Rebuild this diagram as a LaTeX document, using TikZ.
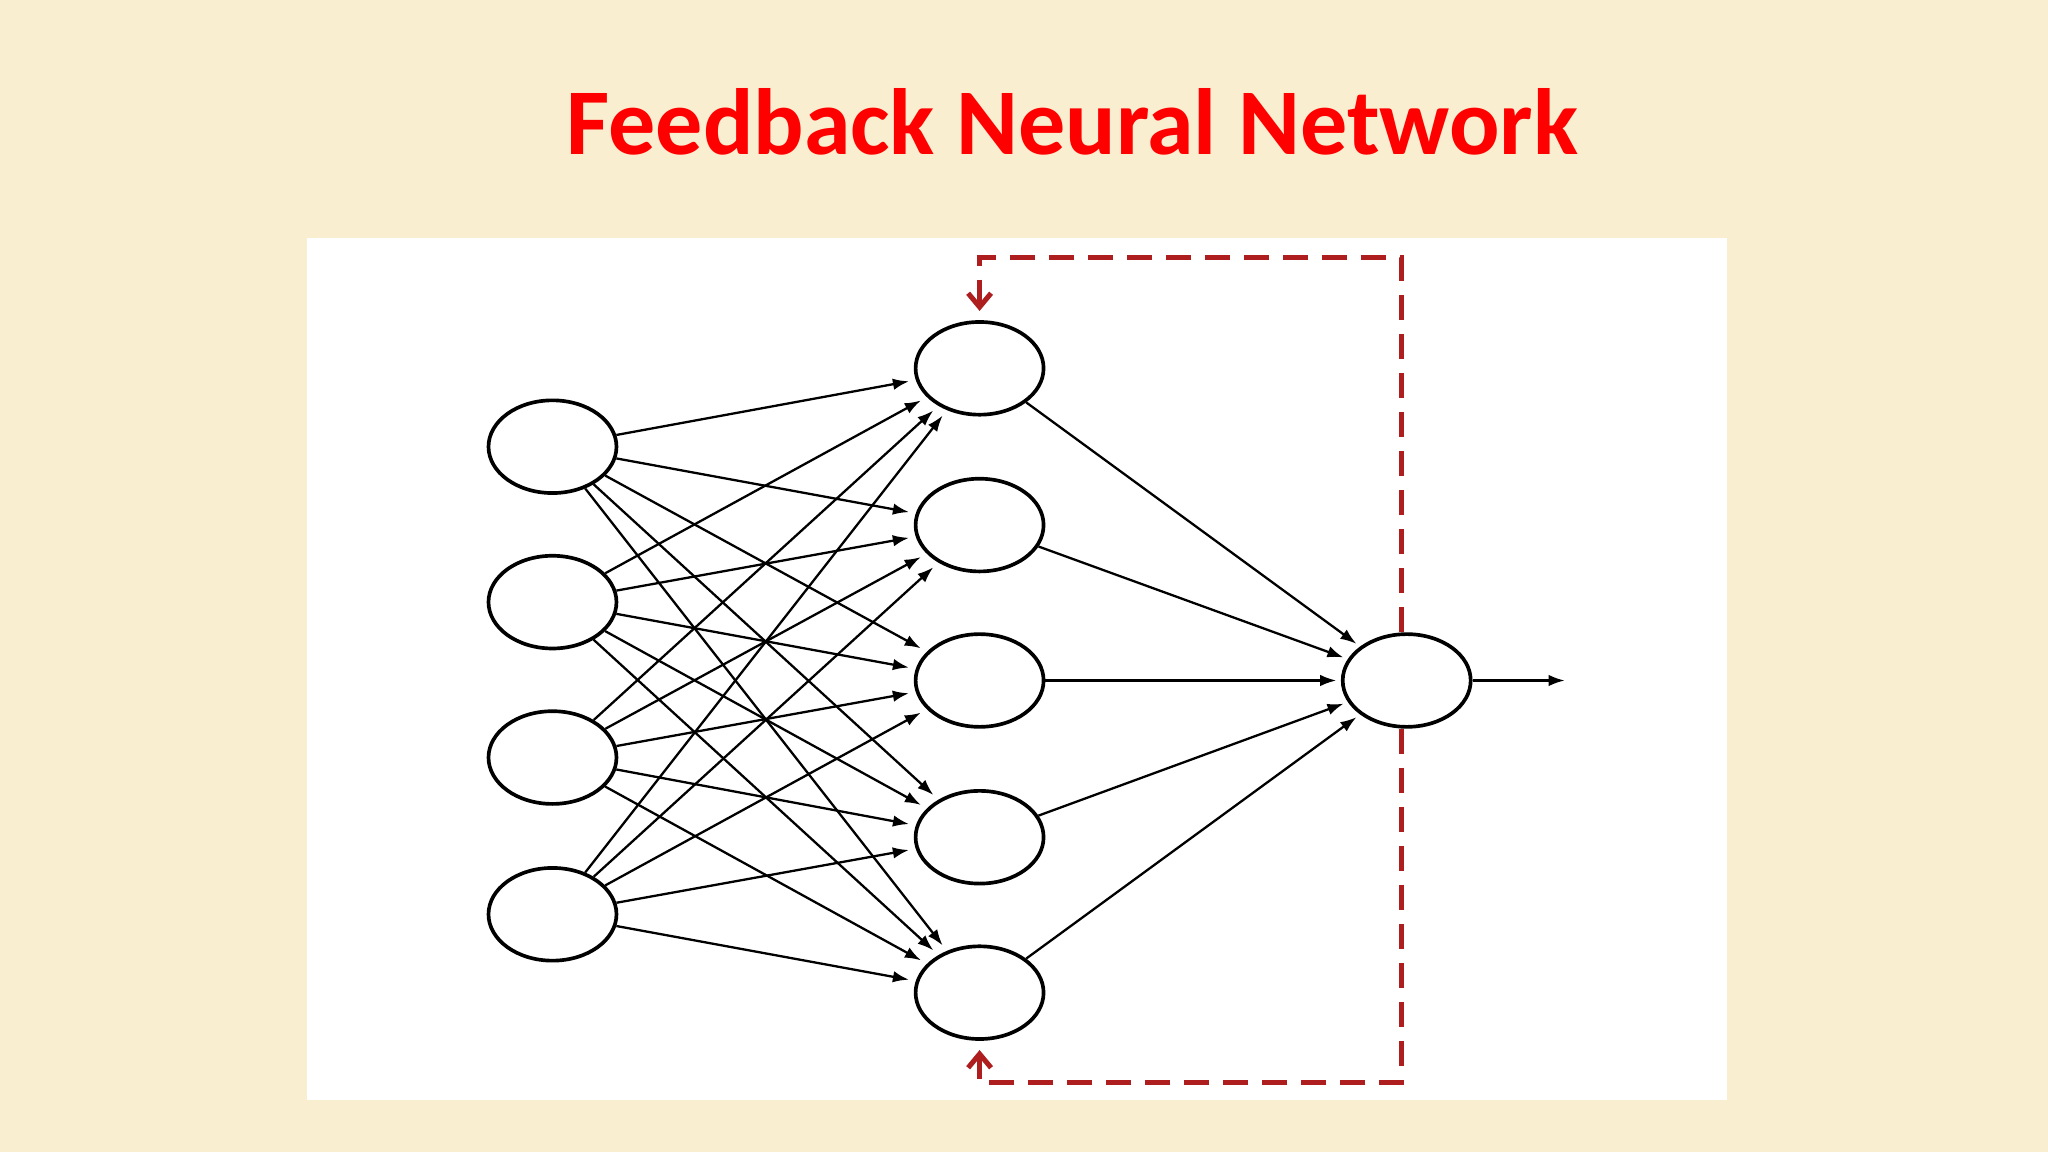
\documentclass[tikz,border=0pt]{standalone}
\usepackage{fontspec}
\setmainfont{Carlito}
\usetikzlibrary{arrows.meta,shapes.geometric}
\definecolor{bgc}{RGB}{250,238,208}
\definecolor{fb}{RGB}{175,30,30}
\begin{document}
\begin{tikzpicture}[x=0.02cm,y=-0.02cm,
  neuron/.style={draw,line width=1.6pt,ellipse,minimum width=1.96cm,minimum height=1.42cm,fill=white},
  conn/.style={-{Latex[length=7pt,width=5pt]},line width=1pt},
  fbline/.style={dash pattern=on 11pt off 6pt,line width=2.2pt,color=fb,-{Straight Barb[length=6pt,width=10pt]}}]
\fill[bgc] (0,0) rectangle (1568,882);
\useasboundingbox (0,0) rectangle (1568,882);
\fill[white] (235,182) rectangle (1322,842);
\node[text=red,font=\bfseries\fontsize{41}{48}\selectfont] (title) at (821,93) {Feedback Neural Network};
\foreach \i/\y in {1/342,2/461,3/580,4/700} \node[neuron] (i\i) at (423,\y) {};
\foreach \j/\y in {1/282,2/402,3/521,4/641,5/760} \node[neuron] (h\j) at (750,\y) {};
\node[neuron] (o) at (1077,521) {};
\coordinate (out) at (1198,521);
\foreach \i in {1,...,4}\foreach \j in {1,...,5} \draw[conn,shorten >=3pt] (i\i) -- (h\j);
\foreach \j in {1,...,5} \draw[conn,shorten >=2pt] (h\j) -- (o);
\draw[conn] (o) -- (out);
\coordinate (t1) at (1073,197); \coordinate (t2) at (750,197);
\coordinate (b1) at (1073,829); \coordinate (b2) at (750,829);
\draw[fbline] (o.north) ++(-4,0) -- (t1) -- (t2) -- ([yshift=4pt]h1.north);
\draw[fbline] (o.south) ++(-4,0) -- (b1) -- (b2) -- ([yshift=-4pt]h5.south);
\end{tikzpicture}
\end{document}
